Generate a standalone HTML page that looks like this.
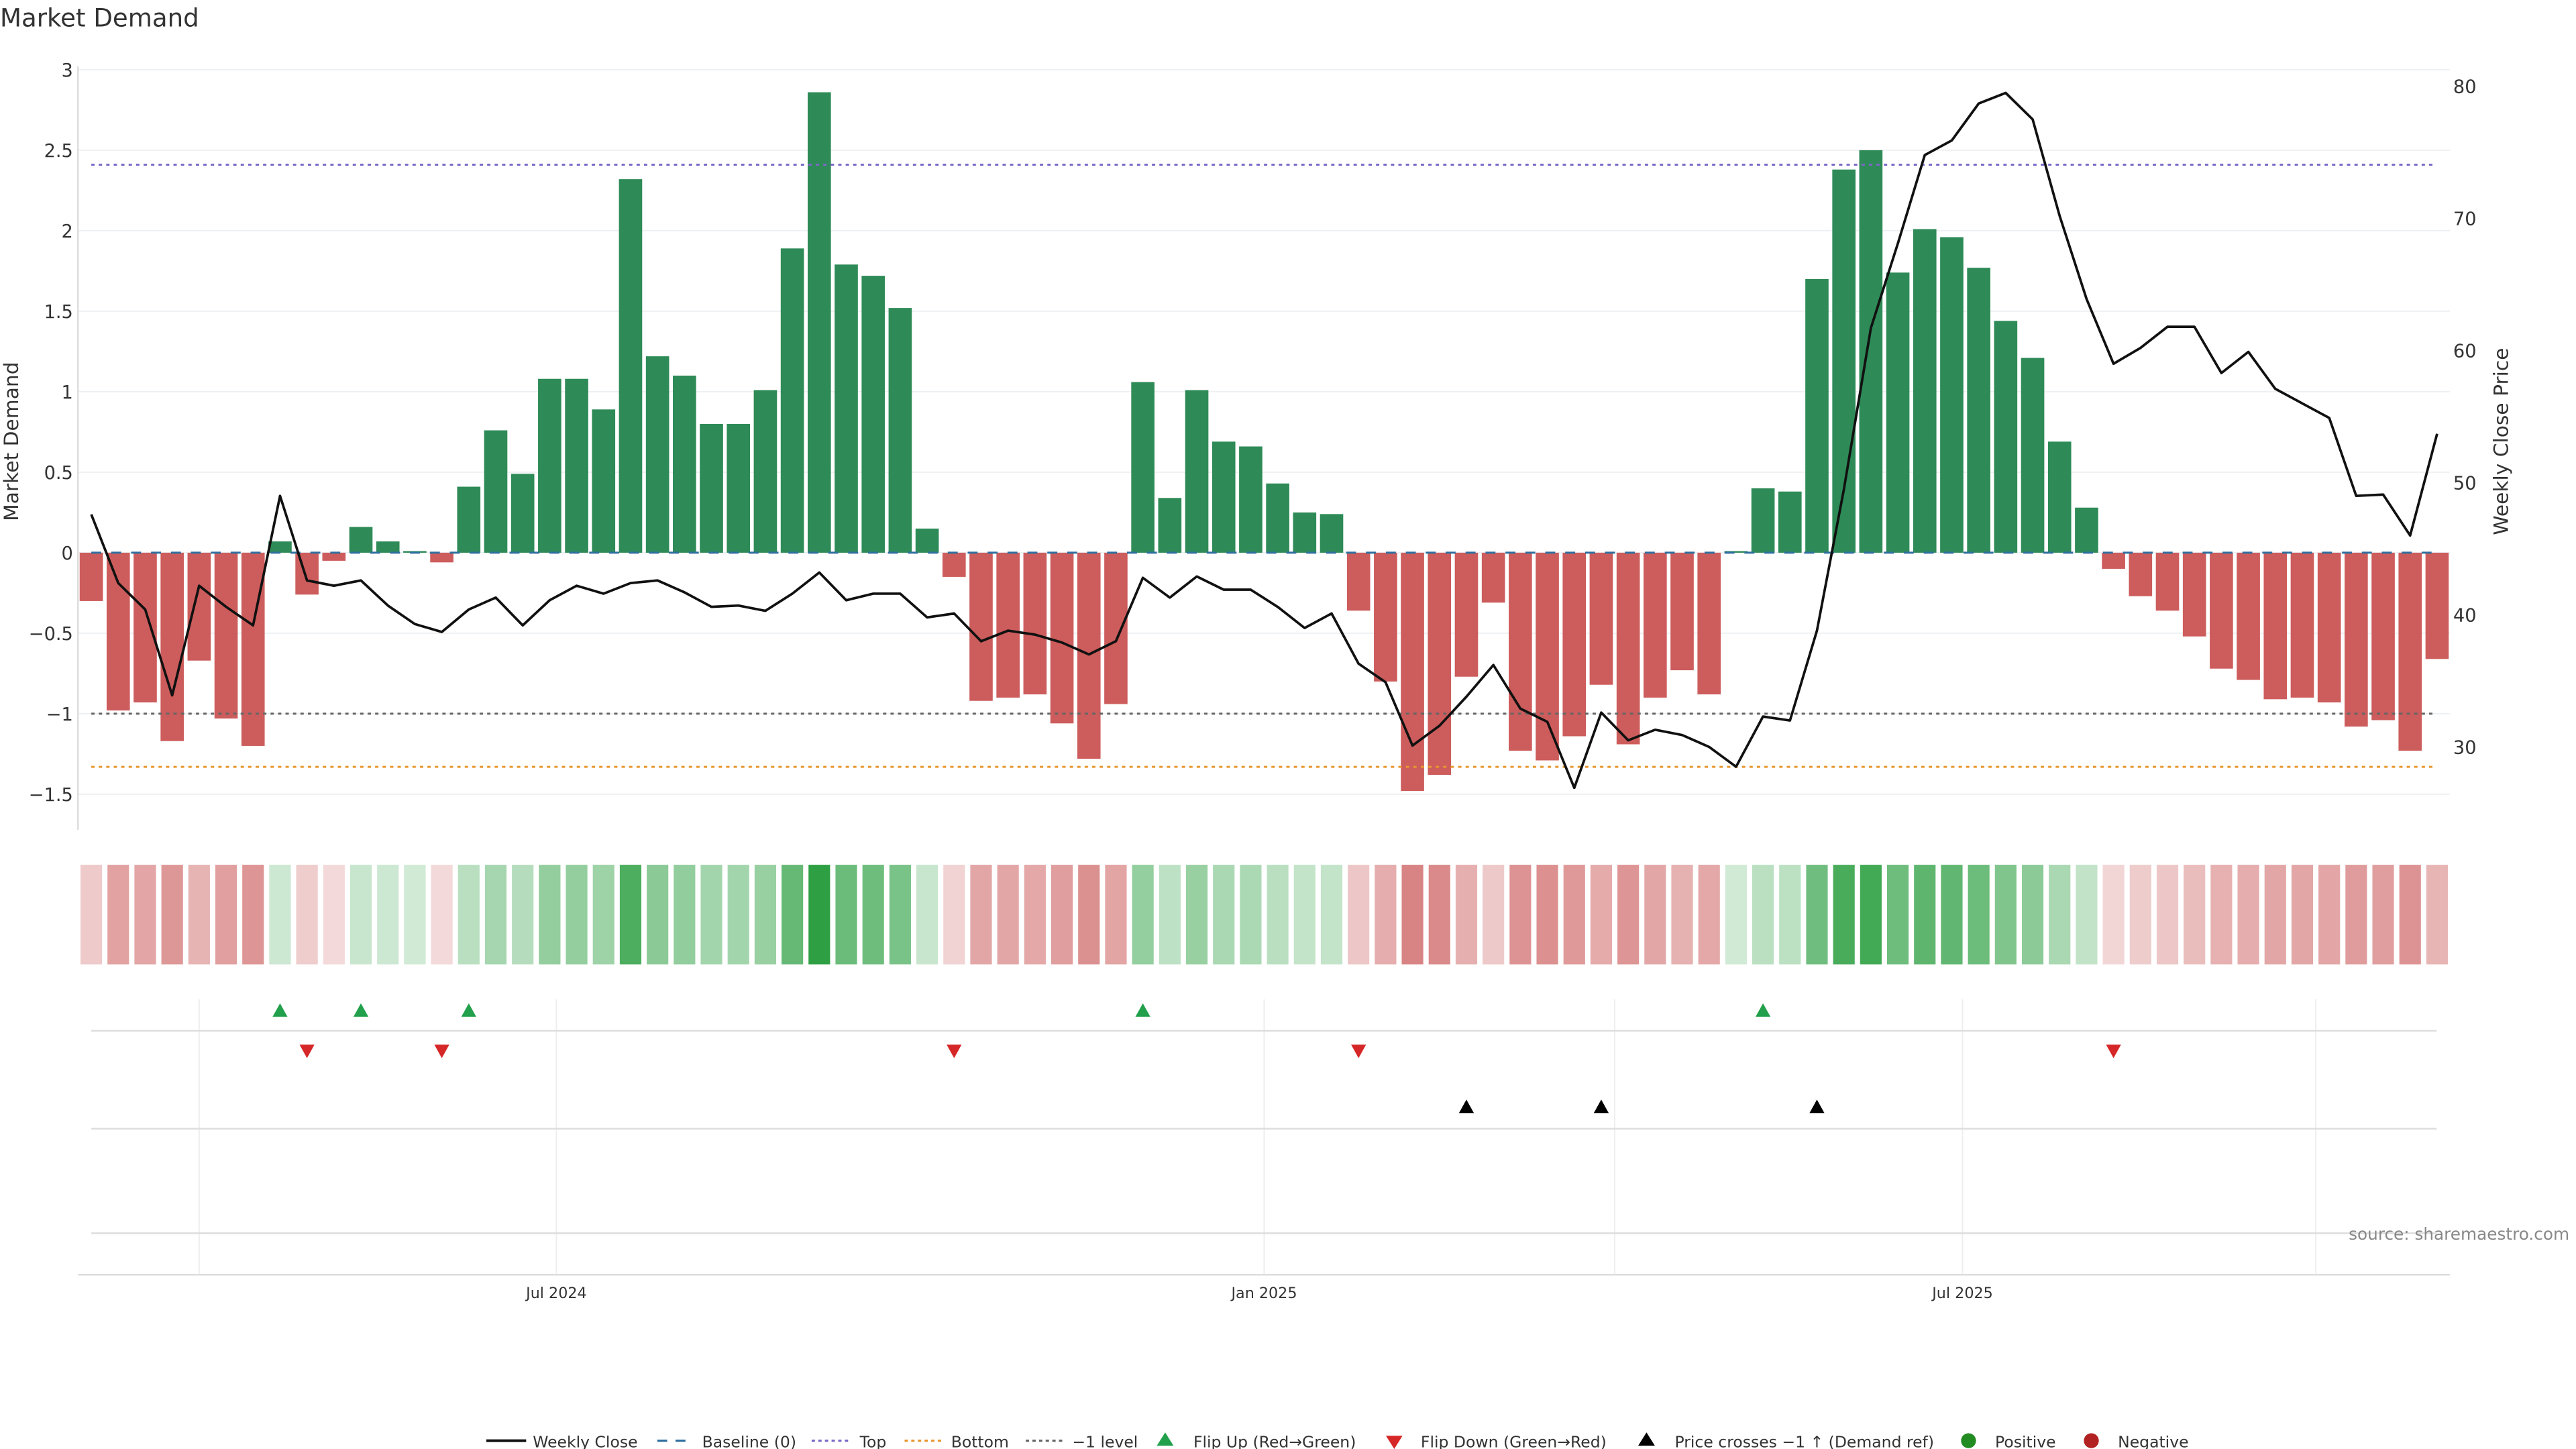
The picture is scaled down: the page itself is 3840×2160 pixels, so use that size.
<!DOCTYPE html>
<html><head><meta charset="utf-8"><style>
html,body{margin:0;padding:0;background:#fff;}
svg{display:block;font-family:"DejaVu Sans","Liberation Sans",sans-serif;}
</style></head><body>
<svg id="chart" width="3840" height="2160" viewBox="0 0 1552 873" xmlns="http://www.w3.org/2000/svg">
<rect width="1552" height="873" fill="#fff"/>
<text x="0" y="16" font-size="15" fill="#333">Market Demand</text>
<g id="grid"></g><g id="bars"></g><g id="lines"></g><g id="heat"></g><g id="marks"></g><g id="axes"></g>
<text x="1548" y="747" font-size="10" fill="#888" text-anchor="end">source: sharemaestro.com</text>
<g id="legend"></g>
</svg>
<script>
const demand=[-0.3,-0.98,-0.93,-1.17,-0.67,-1.03,-1.2,0.07,-0.26,-0.05,0.16,0.07,0.01,-0.06,0.41,0.76,0.49,1.08,1.08,0.89,2.32,1.22,1.1,0.8,0.8,1.01,1.89,2.86,1.79,1.72,1.52,0.15,-0.15,-0.92,-0.9,-0.88,-1.06,-1.28,-0.94,1.06,0.34,1.01,0.69,0.66,0.43,0.25,0.24,-0.36,-0.8,-1.48,-1.38,-0.77,-0.31,-1.23,-1.29,-1.14,-0.82,-1.19,-0.9,-0.73,-0.88,0.01,0.4,0.38,1.7,2.38,2.5,1.74,2.01,1.96,1.77,1.44,1.21,0.69,0.28,-0.1,-0.27,-0.36,-0.52,-0.72,-0.79,-0.91,-0.9,-0.93,-1.08,-1.04,-1.23,-0.66];
const price=[47.6,42.4,40.4,33.9,42.2,40.6,39.2,49.0,42.6,42.2,42.6,40.7,39.3,38.7,40.4,41.3,39.2,41.1,42.2,41.6,42.4,42.6,41.7,40.6,40.7,40.3,41.6,43.2,41.1,41.6,41.6,39.8,40.1,38.0,38.8,38.5,37.9,37.0,38.0,42.8,41.3,42.9,41.9,41.9,40.6,39.0,40.1,36.3,34.9,30.1,31.6,33.8,36.2,32.9,31.9,26.9,32.6,30.5,31.3,30.9,30.0,28.5,32.3,32.0,38.8,49.5,61.7,68.1,74.8,75.9,78.7,79.5,77.5,70.2,63.9,59.0,60.2,61.8,61.8,58.3,59.9,57.1,56.0,54.9,49.0,49.1,46.0,53.7];
const flipUp=[7,10,14,39,62];
const flipDown=[8,13,32,47,75];
const crosses=[51,56,64];
const leftTicks=[3,2.5,2,1.5,1,0.5,0,-0.5,-1,-1.5];
const leftTickLabels=["3","2.5","2","1.5","1","0.5","0","\u22120.5","\u22121","\u22121.5"];
const rightTicks=[80,70,60,50,40,30];
const refTop=[2.41],refBottom=[-1.33],refMinus=[-1];
const dateTicks=[17.25,43.5,69.4];
const dateLabels=["Jul 2024","Jan 2025","Jul 2025"];
const extraGrid=[4,56.5,82.5];

const NS="http://www.w3.org/2000/svg";
const X=i=>55+i*16.245;
const Y=v=>333-v*97;
const P=p=>52+(80-p)*7.96;
function el(tag,attrs,parent){const e=document.createElementNS(NS,tag);for(const k in attrs)e.setAttribute(k,attrs[k]);document.getElementById(parent).appendChild(e);return e;}

leftTicks.forEach((t,k)=>{
 const g=el('line',{x1:47,x2:1476,y1:Y(t),y2:Y(t),stroke:'#eef0f2','stroke-width':0.8},'grid');
 
 
 const tx=el('text',{x:44,y:Y(t)+4,'font-size':11,'text-anchor':'end',fill:'#333'},'axes');tx.textContent=leftTickLabels[k];
 
 
});
rightTicks.forEach(t=>{
 const tx=el('text',{x:1478,y:P(t)+4,'font-size':11,fill:'#333'},'axes');tx.textContent=t;
 
 
});
const ax=el('line',{x1:47,x2:47,y1:40,y2:500,stroke:'#ddd','stroke-width':1},'axes');


let t1=el('text',{x:0,y:0,'font-size':12,fill:'#333','text-anchor':'middle',transform:'translate(11,266) rotate(-90)'},'axes');t1.textContent='Market Demand';


let t2=el('text',{x:0,y:0,'font-size':12,fill:'#333','text-anchor':'middle',transform:'translate(1511,266) rotate(-90)'},'axes');t2.textContent='Weekly Close Price';



demand.forEach((v,i)=>{
 const y0=Y(0),y1=Y(v);
 const r=el('rect',{x:X(i)-7,y:Math.min(y0,y1),width:14,height:Math.max(Math.abs(y1-y0),0.6),fill:v>=0?'#2e8b57':'#cd5c5c'},'bars');
 
 
});
function hline(v,color,dash,name){const l=el('line',{x1:55,x2:1468,y1:Y(v),y2:Y(v),stroke:color,'stroke-width':1.2,'stroke-dasharray':dash},'lines');
 
 }
hline(0,'#2f6f9f','6 6','baseline-line');
refTop.forEach(v=>hline(v,'#7b68c8','2 2.5','top-line'));
refBottom.forEach(v=>hline(v,'#e8962e','2 2.5','bottom-line'));
refMinus.forEach(v=>hline(v,'#666','2 2.5','minus-one-line'));
const pl=el('polyline',{points:price.map((p,i)=>X(i)+','+P(p)).join(' '),fill:'none',stroke:'#111','stroke-width':1.5,'stroke-linejoin':'round'},'lines');



const maxPos=Math.max(...demand),maxNeg=Math.min(...demand);
demand.forEach((v,i)=>{
 let fill;
 if(v>=0){const a=0.22+0.78*v/maxPos;fill=`rgba(46,160,67,${a.toFixed(3)})`;}
 else{const a=0.2+0.5*v/maxNeg;fill=`rgba(200,80,80,${a.toFixed(3)})`;}
 const r=el('rect',{x:X(i)-6.5,y:521,width:13,height:60,fill:fill},'heat');
 
 
});

dateTicks.concat(extraGrid).forEach(d=>{
 const l=el('line',{x1:X(d),x2:X(d),y1:602,y2:768,stroke:'#eee','stroke-width':0.8},'marks');
 
 
});
[621,680,743].forEach(y=>{
 const l=el('line',{x1:55,x2:1468,y1:y,y2:y,stroke:'#ddd','stroke-width':1},'marks');
 
 
});
const bx=el('line',{x1:47,x2:1476,y1:768,y2:768,stroke:'#ddd','stroke-width':1},'marks');


function tri(x,y,up,color,name){const s=4.5;const pts=up?`${x},${y-s} ${x-s},${y+s*0.8} ${x+s},${y+s*0.8}`:`${x},${y+s} ${x-s},${y-s*0.8} ${x+s},${y-s*0.8}`;
 const t=el('polygon',{points:pts,fill:color},'marks');
 
 }
flipUp.forEach(i=>tri(X(i),609,true,'#22a04b','flip-up-marker'));
flipDown.forEach(i=>tri(X(i),633,false,'#d62728','flip-down-marker'));
crosses.forEach(i=>tri(X(i),667,true,'#000','price-cross-marker'));
dateTicks.forEach((d,k)=>{
 const t=el('text',{x:X(d),y:782,'font-size':9,'text-anchor':'middle',fill:'#333'},'axes');t.textContent=dateLabels[k];
 
 
});

const lg='legend';
function ltext(x,s){const t=el('text',{x:x,y:872,'font-size':9.5,fill:'#333'},lg);t.textContent=s;
 
 }
function lline(x1,x2,color,dash,w){el('line',{x1:x1,x2:x2,y1:868,y2:868,stroke:color,'stroke-width':w,'stroke-dasharray':dash},lg);}
lline(293,317,'#111','',1.6);ltext(321,'Weekly Close');
lline(396,418,'#2f6f9f','6 5',1.3);ltext(423,'Baseline (0)');
lline(489,511,'#7b68c8','2 2',1.3);ltext(518,'Top');
lline(545,567,'#e8962e','2 2',1.3);ltext(573,'Bottom');
lline(618,640,'#666','2 2',1.3);ltext(646,'\u22121 level');
el('polygon',{points:'702,863 697,871 707,871',fill:'#22a04b'},lg);ltext(719,'Flip Up (Red\u2192Green)');
el('polygon',{points:'840,873 835,865 845,865',fill:'#d62728'},lg);ltext(856,'Flip Down (Green\u2192Red)');
el('polygon',{points:'992,863 987,871 997,871',fill:'#000'},lg);ltext(1009,'Price crosses \u22121 \u2191 (Demand ref)');
el('circle',{cx:1186,cy:868,r:4.5,fill:'#228b22'},lg);ltext(1202,'Positive');
el('circle',{cx:1260,cy:868,r:4.5,fill:'#b22222'},lg);ltext(1276,'Negative');
</script>
</body></html>
